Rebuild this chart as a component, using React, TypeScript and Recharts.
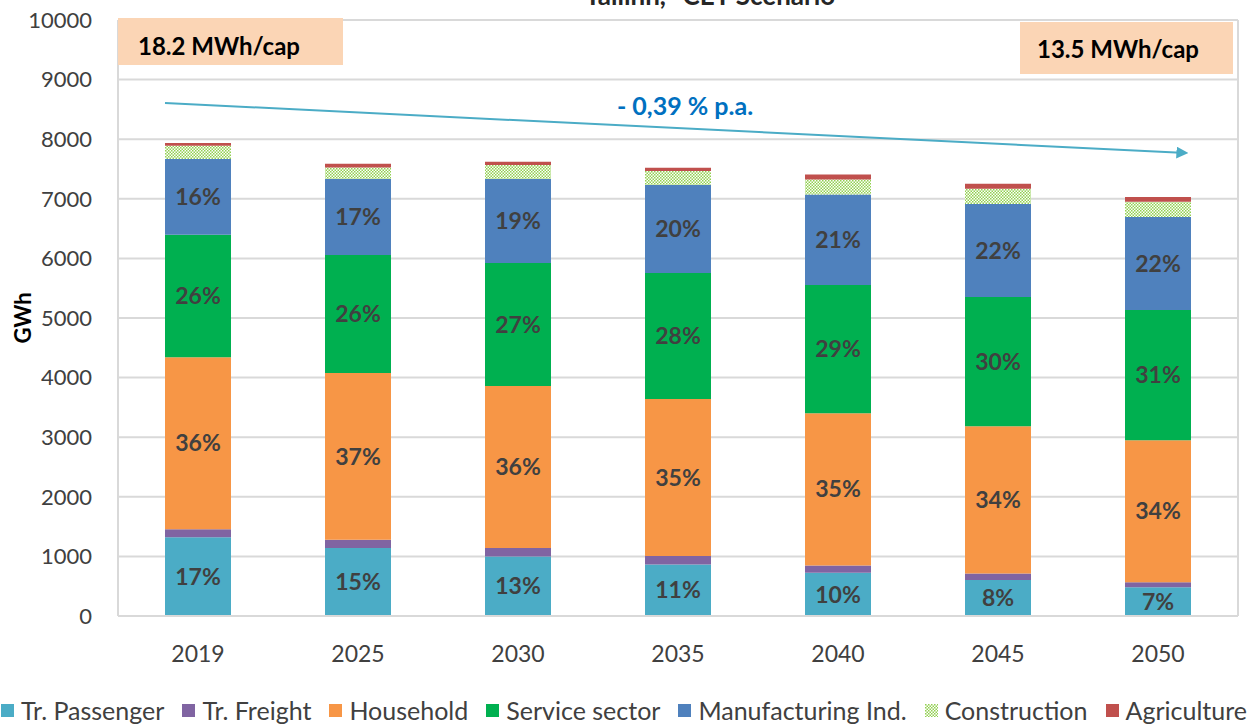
import { BarChart, Bar, XAxis, YAxis, CartesianGrid, Legend, LabelList } from 'recharts';

const years = ['2019', '2025', '2030', '2035', '2040', '2045', '2050'];

const trPassenger = [1320, 1140, 1000, 866, 726, 602, 484];
const trFreight = [135, 140, 140, 139, 123, 112, 84];
const household = [2885, 2796, 2717, 2634, 2554, 2471, 2382];
const serviceSector = [2055, 1983, 2067, 2117, 2152, 2168, 2184];
const manufacturing = [1272, 1272, 1407, 1474, 1517, 1558, 1560];
const construction = [224, 195, 235, 236, 252, 257, 256];
const agriculture = [45, 62, 56, 55, 84, 84, 79];

const passengerLabels = ['17%', '15%', '13%', '11%', '10%', '8%', '7%'];
const householdLabels = ['36%', '37%', '36%', '35%', '35%', '34%', '34%'];
const serviceLabels = ['26%', '26%', '27%', '28%', '29%', '30%', '31%'];
const manufacturingLabels = ['16%', '17%', '19%', '20%', '21%', '22%', '22%'];

const yTicks = [0, 1000, 2000, 3000, 4000, 5000, 6000, 7000, 8000, 9000, 10000];

const series = [
  { key: 'passenger', name: 'Tr. Passenger', color: '#4BACC6' },
  { key: 'freight', name: 'Tr. Freight', color: '#8064A2' },
  { key: 'household', name: 'Household', color: '#F79646' },
  { key: 'service', name: 'Service sector', color: '#00B050' },
  { key: 'manufacturing', name: 'Manufacturing Ind.', color: '#4F81BD' },
  { key: 'construction', name: 'Construction', color: 'url(#constructionDots)' },
  { key: 'agriculture', name: 'Agriculture', color: '#C0504D' },
];

const FONT = 'Lato, "Open Sans", sans-serif';
const TEXT = '#404040';

const data = years.map((year, i) => ({
  year,
  passenger: trPassenger[i],
  freight: trFreight[i],
  household: household[i],
  service: serviceSector[i],
  manufacturing: manufacturing[i],
  construction: construction[i],
  agriculture: agriculture[i],
  passengerLabel: passengerLabels[i],
  householdLabel: householdLabels[i],
  serviceLabel: serviceLabels[i],
  manufacturingLabel: manufacturingLabels[i],
}));

const renderLegend = () => (
  <div
    style={{
      display: 'flex',
      justifyContent: 'center',
      alignItems: 'center',
      height: 30,
      fontFamily: FONT,
      fontSize: 25,
      color: TEXT,
      whiteSpace: 'nowrap',
    }}
  >
    {series.map((s, i) => (
      <div
        key={s.key}
        style={{ display: 'flex', alignItems: 'center', marginRight: i === series.length - 1 ? 0 : 18 }}
      >
        {s.key === 'construction' ? (
          <svg width={13} height={13} style={{ marginRight: 7 }}>
            <defs>
              <pattern id="legendDots" width={3} height={3} patternUnits="userSpaceOnUse">
                <rect width={3} height={3} fill="#ffffff" />
                <rect width={1.5} height={1.5} fill="#92D050" />
                <rect x={1.5} y={1.5} width={1.5} height={1.5} fill="#92D050" />
              </pattern>
            </defs>
            <rect width={13} height={13} fill="url(#legendDots)" />
          </svg>
        ) : (
          <span style={{ width: 13, height: 13, background: s.color, marginRight: 7, display: 'inline-block' }} />
        )}
        <span>{s.name}</span>
      </div>
    ))}
  </div>
);

const labelStyle = { fill: TEXT, fontSize: 23, fontWeight: 'bold', fontFamily: FONT };

const App = () => {
  return (
    <div style={{ position: 'absolute', left: 0, top: 0, width: 1260, height: 725, background: '#fff' }}>
      <BarChart
        width={1260}
        height={725}
        data={data}
        margin={{ top: 20, right: 22, left: 10, bottom: 0 }}
        barSize={66}
      >
        <defs>
          <pattern id="constructionDots" width={3} height={3} patternUnits="userSpaceOnUse">
            <rect width={3} height={3} fill="#ffffff" />
            <rect width={1.5} height={1.5} fill="#92D050" />
            <rect x={1.5} y={1.5} width={1.5} height={1.5} fill="#92D050" />
          </pattern>
        </defs>
        <CartesianGrid
          stroke="#D9D9D9"
          strokeWidth={2}
          verticalCoordinatesGenerator={({ offset }: any) => [offset.left, offset.left + offset.width]}
        />
        <XAxis
          dataKey="year"
          tickSize={0}
          tickMargin={30}
          height={79}
          axisLine={{ stroke: '#D9D9D9', strokeWidth: 2 }}
          tick={{ fill: TEXT, fontSize: 23, fontFamily: FONT }}
        />
        <YAxis
          domain={[0, 10000]}
          ticks={yTicks}
          width={108}
          tickSize={0}
          tickMargin={26}
          axisLine={false}
          tick={{ fill: TEXT, fontSize: 22, fontFamily: FONT }}
        />
        <Legend verticalAlign="bottom" content={renderLegend} />
        <Bar dataKey="passenger" name="Tr. Passenger" stackId="a" fill="#4BACC6" isAnimationActive={false}>
          <LabelList dataKey="passengerLabel" position="center" style={labelStyle} />
        </Bar>
        <Bar dataKey="freight" name="Tr. Freight" stackId="a" fill="#8064A2" isAnimationActive={false} />
        <Bar dataKey="household" name="Household" stackId="a" fill="#F79646" isAnimationActive={false}>
          <LabelList dataKey="householdLabel" position="center" style={labelStyle} />
        </Bar>
        <Bar dataKey="service" name="Service sector" stackId="a" fill="#00B050" isAnimationActive={false}>
          <LabelList dataKey="serviceLabel" position="center" style={labelStyle} />
        </Bar>
        <Bar dataKey="manufacturing" name="Manufacturing Ind." stackId="a" fill="#4F81BD" isAnimationActive={false}>
          <LabelList dataKey="manufacturingLabel" position="center" style={labelStyle} />
        </Bar>
        <Bar dataKey="construction" name="Construction" stackId="a" fill="url(#constructionDots)" isAnimationActive={false} />
        <Bar dataKey="agriculture" name="Agriculture" stackId="a" fill="#C0504D" isAnimationActive={false} />
      </BarChart>

      {/* annotations drawn on top of the chart */}
      <svg
        width={1260}
        height={725}
        style={{ position: 'absolute', left: 0, top: 0, pointerEvents: 'none', fontFamily: FONT }}
      >
        <defs>
          <marker id="arrowHead" viewBox="0 0 10 10" refX={8} refY={5} markerWidth={6} markerHeight={6} orient="auto">
            <path d="M0,0 L10,5 L0,10 z" fill="#4BACC6" />
          </marker>
        </defs>
        <text x={715} y={5} textAnchor="middle" fontSize={26} fontWeight="bold" fill="#262626">
          Tallinn, "CET Scenario"
        </text>
        <text
          x={22}
          y={318}
          transform="rotate(-90 22 318)"
          textAnchor="middle"
          dominantBaseline="central"
          fontSize={22}
          fontWeight="bold"
          fill="#000"
        >
          GWh
        </text>
        <rect x={118} y={18} width={225} height={47} fill="#FBD5B5" />
        <text x={138} y={55} fontSize={24} fontWeight="bold" fill="#000">
          18.2 MWh/cap
        </text>
        <rect x={1020} y={22} width={213} height={52} fill="#FBD5B5" />
        <text x={1118} y={58} textAnchor="middle" fontSize={24} fontWeight="bold" fill="#000">
          13.5 MWh/cap
        </text>
        <line x1={165} y1={103} x2={1186} y2={153} stroke="#4BACC6" strokeWidth={2} markerEnd="url(#arrowHead)" />
        <text x={685} y={115} textAnchor="middle" fontSize={25} fontWeight="bold" fill="#0070C0">
          - 0,39 % p.a.
        </text>
      </svg>
    </div>
  );
};

export default App;
